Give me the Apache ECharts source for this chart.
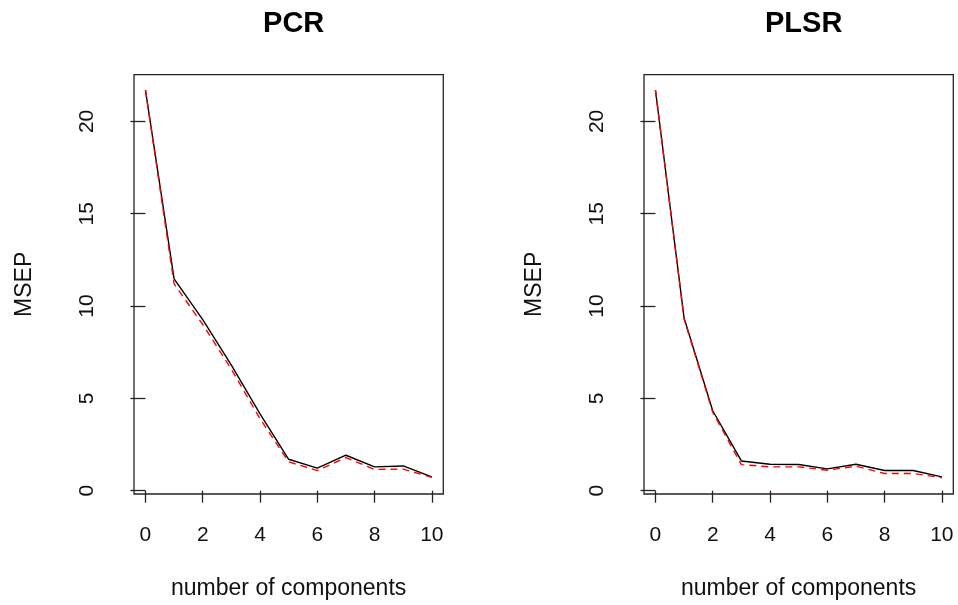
<!DOCTYPE html>
<html>
<head>
<meta charset="utf-8">
<title>PCR / PLSR MSEP</title>
<script src="https://cdn.jsdelivr.net/npm/echarts@6/dist/echarts.min.js"></script>
<style>
  html, body { margin: 0; padding: 0; background: #fff; }
  #main { width: 958px; height: 605px; }
</style>
</head>
<body>
<div id="main"></div>
<script>
// number of components on the x axis
const components = [0, 1, 2, 3, 4, 5, 6, 7, 8, 9, 10];
// MSEP values (CV = black, adjCV = red dashed)
const pcrCV     = [21.7, 11.47, 9.26, 6.8, 4.16, 1.70, 1.22, 1.92, 1.29, 1.34, 0.75];
const pcrAdjCV  = [21.7, 11.2, 9.0, 6.58, 3.9, 1.56, 1.09, 1.79, 1.15, 1.17, 0.72];
const plsrCV    = [21.7, 9.35, 4.33, 1.61, 1.43, 1.42, 1.18, 1.43, 1.09, 1.09, 0.75];
const plsrAdjCV = [21.7, 9.3, 4.25, 1.41, 1.29, 1.29, 1.11, 1.33, 0.93, 0.93, 0.70];
const xTicks = [0, 2, 4, 6, 8, 10];
const yTicks = [0, 5, 10, 15, 20];
const titles = ['PCR', 'PLSR'];

const FONT = 'Liberation Sans, Arial, sans-serif';
const INK = '#222';

function pairs(ys) {
  return components.map((c, i) => [c, ys[i]]);
}

function xAxisFor(idx) {
  return {
    type: 'value',
    gridIndex: idx,
    min: -0.4,
    max: 10.4,
    axisLine: { show: false },
    splitLine: { show: false },
    axisTick: { show: true, length: 12, customValues: xTicks, lineStyle: { color: INK, width: 1.3 } },
    axisLabel: { customValues: xTicks, margin: 31, fontSize: 21, color: '#111', fontFamily: FONT },
    name: 'number of components',
    nameLocation: 'middle',
    nameGap: 83,
    nameTextStyle: { fontSize: 23, color: '#111', fontFamily: FONT }
  };
}

function yAxisFor(idx) {
  return {
    type: 'value',
    gridIndex: idx,
    min: -0.18,
    max: 22.53,
    axisLine: { show: false },
    splitLine: { show: false },
    axisTick: { show: true, length: 15, customValues: yTicks, lineStyle: { color: INK, width: 1.3 } },
    axisLabel: { customValues: yTicks, rotate: 90, margin: 36, fontSize: 21, color: '#111', fontFamily: FONT },
    name: 'MSEP',
    nameLocation: 'middle',
    nameRotate: 90,
    nameGap: 98,
    nameTextStyle: { fontSize: 23, color: '#111', fontFamily: FONT }
  };
}

function lineSeries(idx, ys, color, dashed) {
  return {
    type: 'line',
    xAxisIndex: idx,
    yAxisIndex: idx,
    data: pairs(ys),
    symbol: 'none',
    silent: true,
    animation: false,
    lineStyle: { color: color, width: 1.4, type: dashed ? [7, 5] : 'solid' }
  };
}

const chart = echarts.init(document.getElementById('main'));
const option = {
  backgroundColor: '#ffffff',
  animation: false,
  title: [
    { text: titles[0], left: 288.7, top: 4, textAlign: 'center',
      textStyle: { fontSize: 29, fontWeight: 'bold', color: '#000', fontFamily: FONT } },
    { text: titles[1], left: 798.7, top: 4, textAlign: 'center',
      textStyle: { fontSize: 29, fontWeight: 'bold', color: '#000', fontFamily: FONT } }
  ],
  grid: [
    { left: 134, right: 514.7, top: 74.7, bottom: 107.7, show: true, borderColor: INK, borderWidth: 1.3, backgroundColor: 'transparent' },
    { left: 644, right: 4.7, top: 74.7, bottom: 107.7, show: true, borderColor: INK, borderWidth: 1.3, backgroundColor: 'transparent' }
  ],
  xAxis: [xAxisFor(0), xAxisFor(1)],
  yAxis: [yAxisFor(0), yAxisFor(1)],
  series: [
    lineSeries(0, pcrCV, '#000000', false),
    lineSeries(0, pcrAdjCV, '#ff0000', true),
    lineSeries(1, plsrCV, '#000000', false),
    lineSeries(1, plsrAdjCV, '#ff0000', true)
  ]
};
chart.setOption(option);
</script>
</body>
</html>
